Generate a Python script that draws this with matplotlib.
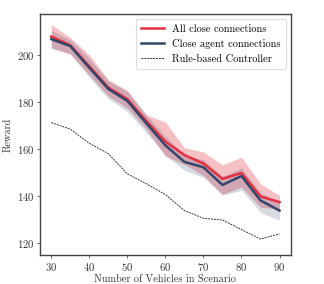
import matplotlib
matplotlib.use("Agg")
import matplotlib.pyplot as plt

plt.rcParams['font.family'] = 'serif'
plt.rcParams['font.serif'] = ['cmr10', 'DejaVu Serif']
plt.rcParams['axes.formatter.use_mathtext'] = True

vehicles = [30, 35, 40, 45, 50, 55, 60, 65, 70, 75, 80, 85, 90]

all_mean = [207.9, 204.2, 195.2, 186.2, 181.3, 172.0, 163.2, 157.5, 153.9, 147.4, 149.9, 139.9, 137.5]
all_upper = [213.0, 207.5, 200.0, 189.5, 185.0, 174.5, 171.5, 160.6, 158.8, 153.3, 156.6, 145.3, 140.3]
all_lower = [203.0, 200.5, 191.5, 182.5, 177.5, 168.5, 157.0, 153.5, 148.8, 140.8, 143.9, 135.3, 134.6]

agent_mean = [206.8, 203.8, 194.6, 185.6, 180.5, 171.0, 161.6, 154.6, 152.3, 144.8, 148.6, 138.2, 133.9]
agent_upper = [210.5, 206.5, 198.5, 189.0, 184.5, 174.5, 165.5, 157.5, 155.5, 148.5, 152.0, 141.5, 137.5]
agent_lower = [203.0, 200.5, 190.5, 181.5, 176.0, 167.0, 157.5, 151.0, 148.0, 140.5, 142.5, 133.2, 129.7]

rule_based = [171.3, 168.5, 162.5, 158.1, 149.5, 145.3, 140.7, 133.9, 130.6, 129.9, 125.8, 121.8, 124.0]

red = '#e6303f'
blue = '#34466b'

fig = plt.figure(figsize=(3.24, 2.84), dpi=100)
ax = fig.add_axes([0.123, 0.102, 0.775, 0.849])

ax.fill_between(vehicles, all_lower, all_upper, color=red, alpha=0.3, linewidth=0)
ax.plot(vehicles, all_mean, color=red, lw=1.8, label='All close connections')
ax.fill_between(vehicles, agent_lower, agent_upper, color=blue, alpha=0.2, linewidth=0)
ax.plot(vehicles, agent_mean, color=blue, lw=1.8, label='Close agent connections')
ax.plot(vehicles, rule_based, color='#333333', lw=0.7, ls=(0, (2, 1)), label='Rule-based Controller')

ax.set_xlim(27, 93)
ax.set_ylim(115, 217.5)
ax.set_xticks([30, 40, 50, 60, 70, 80, 90])
ax.set_yticks([120, 140, 160, 180, 200])
ax.tick_params(labelsize=7.7, length=2.0, width=0.6, pad=2.0, colors='#555555', labelcolor='#333333')
for s in ax.spines.values():
    s.set_color('#444444')
    s.set_linewidth(1.0)

ax.set_xlabel('Number of Vehicles in Scenario', fontsize=7.4, color='#333333', labelpad=1.5)
ax.set_ylabel('Reward', fontsize=7.4, color='#333333', labelpad=3)

leg = ax.legend(loc='upper right', fontsize=7.5, frameon=True, fancybox=True,
                edgecolor='#dddddd', framealpha=1.0, handlelength=2.2, borderpad=0.5)
leg.get_frame().set_linewidth(0.8)

fig.savefig('out.png', dpi=100)
